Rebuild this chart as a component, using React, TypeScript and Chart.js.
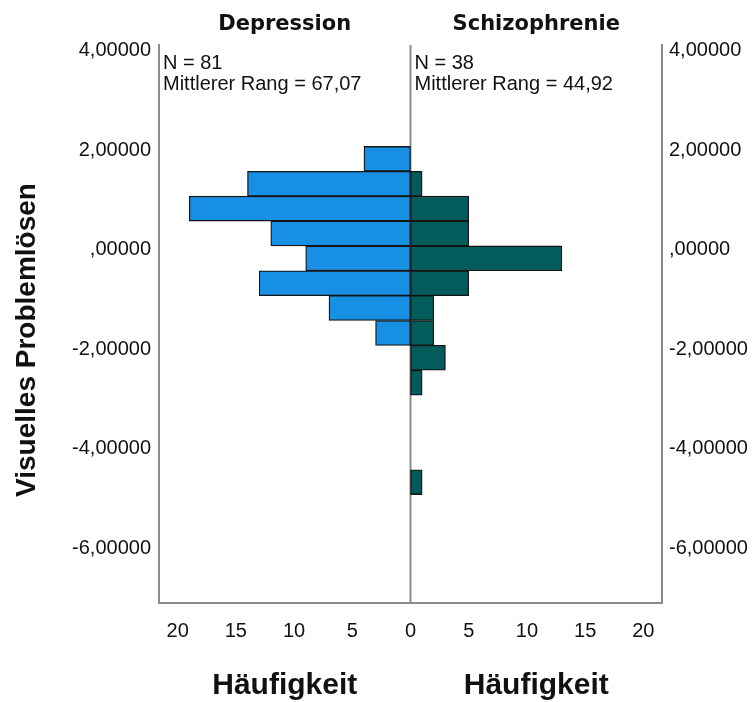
import React, { useEffect, useRef } from 'react';
import { Chart, registerables } from 'chart.js';

Chart.register(...registerables);

// Histogram bins (midpoints, bin width 0.5) of "Visuelles Problemlösen"
const binMid = [1.83, 1.33, 0.83, 0.33, -0.17, -0.67, -1.17, -1.67, -2.17, -2.67, -3.17, -3.67, -4.17, -4.67];
// Frequencies per bin for each group
const depressionCounts = [4, 14, 19, 12, 9, 13, 7, 3, 0, 0, 0, 0, 0, 0];
const schizophrenieCounts = [0, 1, 5, 5, 13, 5, 2, 2, 3, 1, 0, 0, 0, 1];

const groupNames = ['Depression', 'Schizophrenie'];
const groupN = ['81', '38'];
const groupMeanRank = ['67,07', '44,92'];

const yTickValues = [4, 2, 0, -2, -4, -6];
const xTickValues = [-20, -15, -10, -5, 0, 5, 10, 15, 20];

const yTitle = 'Visuelles Problemlösen';
const xTitle = 'Häufigkeit';

const BLUE = '#178fe4';
const TEAL = '#045b5b';
const EDGE = '#151515';
const FRAME = '#8c8c8c';
const TEXT = '#111111';
const FONT = '"Liberation Sans", Arial, sans-serif';

const fmtY = (v: number) => (v === 0 ? ',00000' : v.toFixed(5).replace('.', ','));

const panelText = {
  id: 'panelText',
  beforeDatasetsDraw(chart: any) {
    const { ctx, chartArea } = chart;
    const x0 = chart.scales.x.getPixelForValue(0);
    ctx.save();
    ctx.strokeStyle = FRAME;
    ctx.lineWidth = 2;
    ctx.beginPath();
    ctx.moveTo(x0, chartArea.top);
    ctx.lineTo(x0, chartArea.bottom);
    ctx.stroke();
    ctx.restore();
  },
  afterDraw(chart: any) {
    const { ctx, chartArea } = chart;
    const x0 = chart.scales.x.getPixelForValue(0);
    const halves = [
      { l: chartArea.left, r: x0 },
      { l: x0, r: chartArea.right },
    ];
    ctx.save();
    ctx.fillStyle = TEXT;
    halves.forEach((h, i) => {
      const cx = (h.l + h.r) / 2;
      // group title
      ctx.font = `bold 21px "DejaVu Sans", sans-serif`;
      ctx.textAlign = 'center';
      ctx.textBaseline = 'middle';
      ctx.fillText(groupNames[i], cx, 25);
      // N and mean rank
      ctx.font = `20px ${FONT}`;
      ctx.textAlign = 'left';
      ctx.fillText(`N = ${groupN[i]}`, h.l + 4, 63);
      ctx.fillText(`Mittlerer Rang = ${groupMeanRank[i]}`, h.l + 4, 84);
      // frequency axis title
      ctx.font = `bold 30px ${FONT}`;
      ctx.textAlign = 'center';
      ctx.fillText(xTitle, cx, 686);
    });
    // value axis title
    ctx.translate(27, 340);
    ctx.rotate(-Math.PI / 2);
    ctx.font = `bold 28px ${FONT}`;
    ctx.textAlign = 'center';
    ctx.textBaseline = 'middle';
    ctx.fillText(yTitle, 0, 0);
    ctx.restore();
  },
};

export default function App() {
  const ref = useRef<HTMLCanvasElement>(null);

  useEffect(() => {
    if (!ref.current) return;
    const toPoints = (counts: number[], sign: number) =>
      binMid
        .map((m, i) => ({ x: sign * counts[i], y: m }))
        .filter((p) => p.x !== 0);

    const yScaleCommon = {
      type: 'linear' as const,
      min: -7.1,
      max: 4.12,
      offset: false,
      grid: { display: false, drawTicks: false, offset: false },
      border: { display: true, color: FRAME, width: 2 },
      afterBuildTicks: (s: any) => {
        s.ticks = yTickValues.map((v) => ({ value: v }));
      },
    };

    const chart = new Chart(ref.current, {
      type: 'bar',
      data: {
        datasets: [
          {
            label: groupNames[0],
            data: toPoints(depressionCounts, -1),
            backgroundColor: BLUE,
            borderColor: EDGE,
            borderWidth: 1.3,
            borderSkipped: false,
            grouped: false,
            barPercentage: 1,
            categoryPercentage: 1,
            yAxisID: 'y',
          },
          {
            label: groupNames[1],
            data: toPoints(schizophrenieCounts, 1),
            backgroundColor: TEAL,
            borderColor: EDGE,
            borderWidth: 1.3,
            borderSkipped: false,
            grouped: false,
            barPercentage: 1,
            categoryPercentage: 1,
            yAxisID: 'y',
          },
        ],
      },
      options: {
        indexAxis: 'y',
        responsive: false,
        animation: false,
        layout: { padding: { top: 45, left: 0, right: 0, bottom: 0 } },
        plugins: {
          legend: { display: false },
          tooltip: { enabled: false },
        },
        scales: {
          x: {
            type: 'linear',
            position: 'bottom',
            min: -21.6,
            max: 21.6,
            grid: { display: false, drawTicks: false },
            border: { display: true, color: FRAME, width: 2 },
            afterBuildTicks: (s: any) => {
              s.ticks = xTickValues.map((v) => ({ value: v }));
            },
            ticks: {
              autoSkip: false,
              maxRotation: 0,
              padding: 16,
              color: TEXT,
              font: { family: FONT, size: 20 },
              callback: (v: any) => String(Math.abs(Number(v))),
            },
            afterFit: (s: any) => {
              s.height = 99;
            },
          },
          y: {
            ...yScaleCommon,
            position: 'left',
            ticks: {
              padding: 8,
              color: TEXT,
              font: { family: FONT, size: 20 },
              callback: (v: any) => fmtY(Number(v)),
            },
            afterFit: (s: any) => {
              s.width = 159;
            },
          },
          y2: {
            ...yScaleCommon,
            position: 'right',
            ticks: {
              padding: 7,
              color: TEXT,
              font: { family: FONT, size: 20 },
              callback: (v: any) => fmtY(Number(v)),
            },
            afterFit: (s: any) => {
              s.width = 91;
            },
          },
        },
      },
      plugins: [panelText],
    } as any);

    return () => chart.destroy();
  }, []);

  return (
    <div style={{ position: 'fixed', left: 0, top: 0, width: 753, height: 702, background: '#ffffff' }}>
      <canvas ref={ref} width={753} height={702} />
    </div>
  );
}
